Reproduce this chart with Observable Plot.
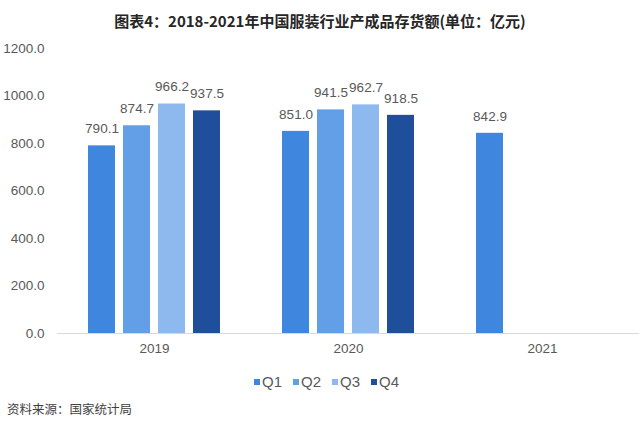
<!DOCTYPE html>
<html>
<head>
<meta charset="utf-8">
<script src="https://cdn.jsdelivr.net/npm/d3@7"></script>
<script src="https://cdn.jsdelivr.net/npm/@observablehq/plot@0.6"></script>
<style>
  html, body { margin: 0; padding: 0; background: #fff; }
  #wrap { position: relative; width: 640px; height: 428px; overflow: hidden; font-family: "Liberation Sans", Arial, sans-serif; }
  #title { position: absolute; left: 0; top: 11px; width: 640px; text-align: center; font-family: "Noto Sans CJK SC", sans-serif; font-weight: bold; font-size: 15px; line-height: 20px; color: #262626; }
  #chart { position: absolute; left: 0; top: 30px; }
  #legend { position: absolute; left: 254px; top: 372px; height: 18px; display: flex; align-items: center; font-size: 15px; color: #595959; font-family: "Liberation Sans", Arial, sans-serif; }
  .item { display: flex; align-items: center; margin-right: 11px; }
  .sw { width: 6px; height: 6px; margin-right: 2px; margin-top: 1px; }
  #source { position: absolute; left: 7px; top: 400px; font-family: "Noto Sans CJK SC", sans-serif; font-size: 12.5px; color: #404040; line-height: 18px; }
</style>
</head>
<body>
<div id="wrap">
  <div id="title">图表4：2018-2021年中国服装行业产成品存货额(单位：亿元)</div>
  <div id="chart"></div>
  <div id="legend"></div>
  <div id="source">资料来源：国家统计局</div>
</div>
<script>
const years = ["2019", "2020", "2021"];
const quarters = ["Q1", "Q2", "Q3", "Q4"];
const values2019 = [790.1, 874.7, 966.2, 937.5];
const values2020 = [851.0, 941.5, 962.7, 918.5];
const values2021 = [842.9];
const yTicks = [0, 200, 400, 600, 800, 1000, 1200];
const colors = ["#3f86de", "#629fe6", "#8eb9ee", "#1f4f9a"];

const rows = [];
[values2019, values2020, values2021].forEach((vals, i) => {
  vals.forEach((v, j) => rows.push({year: years[i], quarter: quarters[j], value: v}));
});

const chart = Plot.plot({
  width: 640,
  height: 340,
  marginTop: 18,
  marginBottom: 37,
  marginLeft: 56,
  marginRight: 0,
  style: {fontFamily: "Liberation Sans, Arial, sans-serif", fontSize: "13.5px", color: "#595959", background: "transparent"},
  fx: {domain: years, padding: 0, label: null, tickSize: 0, tickPadding: 10},
  x: {domain: quarters, axis: null, paddingInner: 0.225, paddingOuter: 0.853},
  y: {domain: [0, 1200], ticks: yTicks, tickFormat: d3.format(".1f"), tickSize: 0, tickPadding: 13, label: null, line: false},
  color: {domain: quarters, range: colors},
  marks: [
    Plot.ruleY([0], {stroke: "#d9d9d9", strokeWidth: 1}),
    Plot.barY(rows, {fx: "year", x: "quarter", y: "value", fill: "quarter"}),
    Plot.text(rows, {fx: "year", x: "quarter", y: "value", text: d => d.value.toFixed(1), dy: -17, fill: "#595959", fontSize: 13.5})
  ]
});
document.getElementById("chart").appendChild(chart);

const colorScale = chart.scale("color");
const items = d3.select("#legend").selectAll("div.item").data(quarters).join("div").attr("class", "item");
items.append("div").attr("class", "sw").style("background", d => colorScale.apply(d));
items.append("span").text(d => d);
</script>
</body>
</html>
